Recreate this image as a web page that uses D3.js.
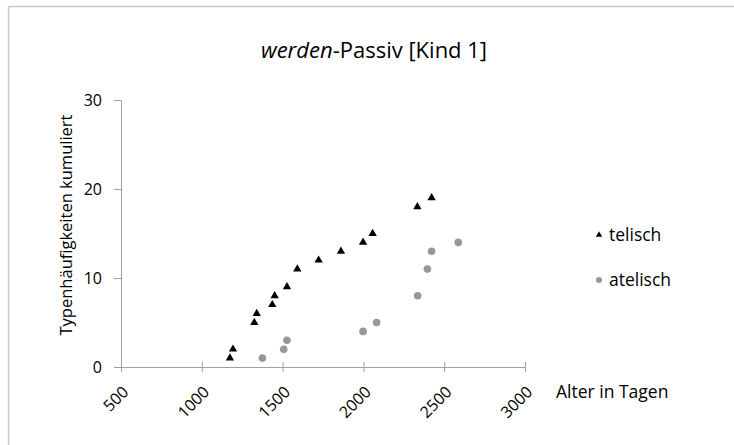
<!DOCTYPE html>
<html>
<head>
<meta charset="utf-8">
<script src="https://cdn.jsdelivr.net/npm/d3@7"></script>
<style>
  body { margin: 0; background: #fff; }
  text { font-family: "Open Sans", sans-serif; fill: #000; }
</style>
</head>
<body>
<svg id="chart" width="734" height="445"></svg>
<script>
// data
const telischAge = [1174, 1193, 1325, 1340, 1436, 1451, 1527, 1591, 1723, 1861, 1998, 2057, 2334, 2422];
const telischCount = [1, 2, 5, 6, 7, 8, 9, 11, 12, 13, 14, 15, 18, 19];
const atelischAge = [1375, 1507, 1527, 1998, 2082, 2336, 2396, 2422, 2587];
const atelischCount = [1, 2, 3, 4, 5, 8, 11, 13, 14];
const xTicks = [500, 1000, 1500, 2000, 2500, 3000];
const yTicks = [0, 10, 20, 30];

const svg = d3.select("#chart");
const axisColor = "#a0a0a0";
const grey = "#979797";

// frame (only top/left edges visible)
svg.append("line").attr("x1", 8.5).attr("x2", 734).attr("y1", 6.5).attr("y2", 6.5)
  .attr("stroke", "#c8c8c8").attr("stroke-width", 1.5);
svg.append("line").attr("x1", 8.5).attr("x2", 8.5).attr("y1", 6.5).attr("y2", 445)
  .attr("stroke", "#c8c8c8").attr("stroke-width", 1.5);

const x = d3.scaleLinear().domain([500, 3000]).range([121, 525]);
const y = d3.scaleLinear().domain([0, 30]).range([367, 100]);

// title
const title = svg.append("text").attr("x", 374).attr("y", 58)
  .attr("text-anchor", "middle").style("font-size", "22px");
title.append("tspan").style("font-style", "italic").text("werden");
title.append("tspan").text("-Passiv [Kind 1]");

// y axis
const yAxis = svg.append("g").attr("transform", "translate(121,0)")
  .call(d3.axisLeft(y).tickValues(yTicks).tickSize(7).tickPadding(12));
yAxis.select(".domain").attr("stroke", axisColor);
yAxis.selectAll(".tick line").attr("stroke", axisColor);
yAxis.selectAll(".tick text").style("font-size", "16px").style("font-family", "'Open Sans', sans-serif");

// x axis
const xAxis = svg.append("g").attr("transform", "translate(0,367)")
  .call(d3.axisBottom(x).tickValues(xTicks).tickFormat(d3.format("d")).tickSize(5));
xAxis.select(".domain").attr("stroke", axisColor);
xAxis.selectAll(".tick line").attr("stroke", axisColor).attr("y1", -5);
xAxis.selectAll(".tick text")
  .style("font-size", "16px").style("font-family", "'Open Sans', sans-serif")
  .attr("text-anchor", "end")
  .attr("y", 0).attr("dy", 0)
  .attr("transform", "translate(8,26) rotate(-45)");

// axis titles
svg.append("text")
  .attr("transform", "translate(72,225) rotate(-90)")
  .attr("text-anchor", "middle").style("font-size", "16.5px")
  .text("Typenhäufigkeiten kumuliert");
svg.append("text").attr("x", 556).attr("y", 398)
  .style("font-size", "17.5px").text("Alter in Tagen");

// points
const tri = d3.symbol().type(d3.symbolTriangle).size(30);
const telisch = telischAge.map((a, i) => ({ a, c: telischCount[i] }));
const atelisch = atelischAge.map((a, i) => ({ a, c: atelischCount[i] }));

svg.selectAll(".ptAtelisch")
  .data(atelisch)
  .enter()
  .append("circle")
  .attr("class", "ptAtelisch")
  .attr("cx", (d) => x(d.a))
  .attr("cy", (d) => y(d.c))
  .attr("r", 3.8)
  .attr("fill", grey);

svg.selectAll(".ptTelisch")
  .data(telisch)
  .enter()
  .append("path")
  .attr("class", "ptTelisch")
  .attr("d", tri)
  .attr("transform", (d) => `translate(${x(d.a)},${y(d.c)})`)
  .attr("fill", "#000");

// legend
svg.append("path").attr("d", d3.symbol().type(d3.symbolTriangle).size(18))
  .attr("transform", "translate(599,235)").attr("fill", "#000");
svg.append("text").attr("x", 609).attr("y", 241).style("font-size", "17.5px").text("telisch");
svg.append("circle").attr("cx", 599).attr("cy", 280).attr("r", 3).attr("fill", grey);
svg.append("text").attr("x", 609).attr("y", 286).style("font-size", "17.5px").text("atelisch");
</script>
</body>
</html>
